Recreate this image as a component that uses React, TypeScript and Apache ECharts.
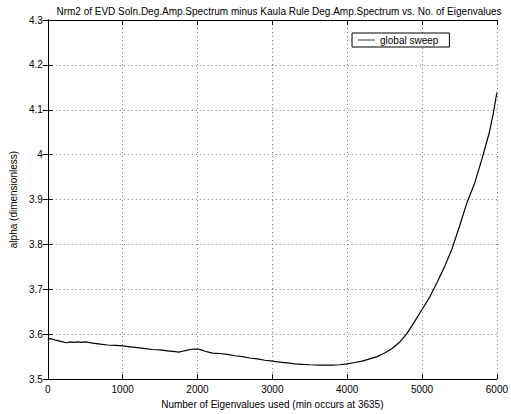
import React, { useEffect, useRef } from "react";
import * as echarts from "echarts";

const titleText =
  "Nrm2 of EVD Soln.Deg.Amp.Spectrum minus Kaula Rule Deg.Amp.Spectrum vs. No. of Eigenvalues";
const xAxisName = "Number of Eigenvalues used (min occurs at 3635)";
const yAxisName = "alpha (dimensionless)";
const seriesName = "global sweep";

const xValues = [
  0, 30, 60, 100, 150, 200, 250, 300, 350, 400, 450, 500, 600, 700, 800, 900,
  1000, 1050, 1100, 1200, 1300, 1400, 1500, 1600, 1700, 1750, 1800, 1850, 1900,
  1950, 2000, 2050, 2100, 2200, 2300, 2400, 2500, 2600, 2700, 2800, 2900, 3000,
  3100, 3200, 3300, 3400, 3500, 3635, 3700, 3800, 3900, 4000, 4100, 4200, 4300,
  4400, 4500, 4600, 4700, 4800, 4900, 5000, 5100, 5200, 5300, 5400, 5500, 5600,
  5700, 5800, 5900, 5950, 6000,
];
const yValues = [
  3.589, 3.59, 3.589, 3.587, 3.585, 3.583, 3.581, 3.583, 3.582, 3.583, 3.582,
  3.583, 3.58, 3.578, 3.576, 3.575, 3.574, 3.573, 3.572, 3.57, 3.568, 3.566,
  3.565, 3.563, 3.561, 3.56, 3.562, 3.564, 3.566, 3.567, 3.567, 3.565, 3.562,
  3.558, 3.557, 3.555, 3.552, 3.55, 3.547, 3.545, 3.542, 3.54, 3.538, 3.536,
  3.534, 3.533, 3.532, 3.531, 3.531, 3.531, 3.532, 3.534, 3.537, 3.54, 3.545,
  3.55, 3.558, 3.568, 3.582, 3.602, 3.628, 3.655, 3.682, 3.715, 3.75, 3.79,
  3.84, 3.893, 3.935, 3.99, 4.05, 4.09, 4.138,
];

const FONT = "Liberation Sans, Arial, Helvetica, sans-serif";

export default function App() {
  const ref = useRef<HTMLDivElement>(null);
  useEffect(() => {
    if (!ref.current) return;
    const chart = echarts.init(ref.current, null, { renderer: "svg" });
    const data = xValues.map((x, i) => [x, yValues[i]]);
    const gridLine = {
      show: true,
      lineStyle: { color: "#777", type: [1, 3] as any, width: 1 },
    };
    const axisLine = { show: true, lineStyle: { color: "#000", width: 1 } };
    const tick = { show: true, inside: true, length: 5, lineStyle: { color: "#000" } };
    chart.setOption({
      animation: false,
      backgroundColor: "#fff",
      title: {
        text: titleText,
        left: 274,
        top: 1,
        textAlign: "center",
        textStyle: { fontFamily: FONT, fontSize: 10, fontWeight: "normal", color: "#000" },
      },
      legend: {
        left: 352,
        top: 33,
        padding: [1, 11, 1, 6],
        itemWidth: 17,
        itemHeight: 1,
        icon: "rect",
        borderColor: "#000",
        borderWidth: 1,
        borderRadius: 0,
        backgroundColor: "#fff",
        itemStyle: { color: "#333" },
        textStyle: { fontFamily: FONT, fontSize: 10, color: "#000", lineHeight: 12 },
        data: [{ name: seriesName }],
      },
      grid: { left: 40, right: 10, top: 20, bottom: 31 },
      xAxis: [
        {
          type: "value",
          min: 0,
          max: 6000,
          interval: 1000,
          position: "bottom",
          name: xAxisName,
          nameLocation: "middle",
          nameGap: 16,
          nameTextStyle: { fontFamily: FONT, fontSize: 10, color: "#000" },
          axisLine,
          axisTick: tick,
          axisLabel: {
            fontFamily: FONT,
            fontSize: 10,
            color: "#000",
            margin: 5,
            formatter: (v: number) => String(v),
          },
          splitLine: gridLine,
        },
        {
          type: "value",
          min: 0,
          max: 6000,
          interval: 1000,
          position: "top",
          axisLine,
          axisTick: tick,
          axisLabel: { show: false },
          splitLine: { show: false },
        },
      ],
      yAxis: [
        {
          type: "value",
          min: 3.5,
          max: 4.3,
          interval: 0.1,
          position: "left",
          name: yAxisName,
          nameLocation: "middle",
          nameGap: 27,
          nameTextStyle: { fontFamily: FONT, fontSize: 10, color: "#000" },
          axisLine,
          axisTick: tick,
          axisLabel: {
            fontFamily: FONT,
            fontSize: 10,
            color: "#000",
            margin: 5,
            formatter: (v: number) => String(Math.round(v * 10) / 10),
          },
          splitLine: gridLine,
        },
        {
          type: "value",
          min: 3.5,
          max: 4.3,
          interval: 0.1,
          position: "right",
          axisLine,
          axisTick: tick,
          axisLabel: { show: false },
          splitLine: { show: false },
        },
      ],
      series: [
        {
          name: seriesName,
          type: "line",
          data,
          xAxisIndex: 0,
          yAxisIndex: 0,
          symbol: "none",
          showSymbol: false,
          lineStyle: { color: "#000", width: 1.2 },
          itemStyle: { color: "#000" },
        },
      ],
    });
    return () => chart.dispose();
  }, []);
  return (
    <div
      ref={ref}
      style={{ position: "fixed", left: 0, top: 0, width: 511, height: 414 }}
    />
  );
}
